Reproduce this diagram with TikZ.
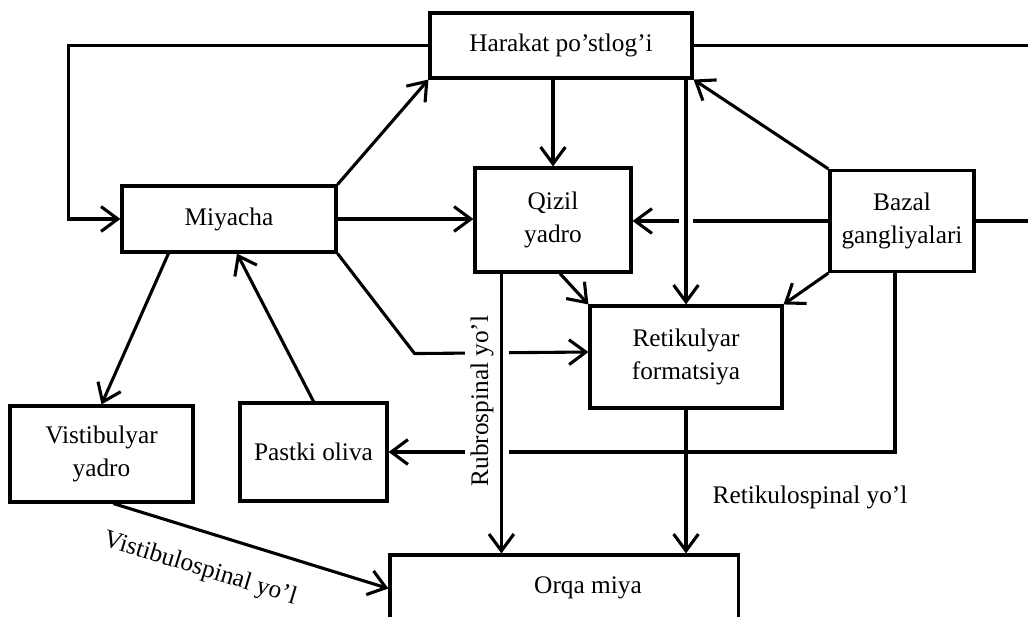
\documentclass[tikz,border=0pt]{standalone}
\usepackage{fontspec}
\setmainfont{Liberation Serif}
\usetikzlibrary{arrows.meta,calc}
\begin{document}
\begin{tikzpicture}[x=0.025cm,y=-0.025cm,
  box/.style={draw, line width=2.2pt, inner sep=0pt, align=center,
    font=\fontsize{18}{23}\selectfont},
  ln/.style={line width=2.2pt},
  arr/.style={ln, -{Straight Barb[length=0.42cm,width=0.62cm]}},
  lbl/.style={font=\fontsize{18}{21}\selectfont, inner sep=1pt},
  gap/.style={preaction={draw=white, -, line width=0.36cm,
    shorten <=4pt, shorten >=0.7cm}}]
\clip (0,0) rectangle (1028,617);

% blocks
\node[box, minimum width=6.55cm, minimum height=1.625cm] (har) at (561,45.5) {Harakat po'stlog'i};
\node[box, minimum width=5.35cm, minimum height=1.65cm] (miy) at (229,219) {Miyacha};
\node[box, minimum width=3.9cm, minimum height=2.6cm] (qiz) at (553,220) {Qizil\\yadro};
\node[box, minimum width=3.6cm, minimum height=2.525cm] (baz) at (902,221) {Bazal\\gangliyalari};
\node[box, minimum width=4.8cm, minimum height=2.55cm] (ret) at (686,357) {Retikulyar\\formatsiya};
\node[box, minimum width=4.575cm, minimum height=2.4cm] (ves) at (101.5,454) {Vistibulyar\\yadro};
\node[box, minimum width=3.675cm, minimum height=2.45cm] (pas) at (313.5,452) {Pastki oliva};
\node[box, minimum width=8.7cm, minimum height=1.675cm] (orq) at (564,588.5) {};
\node[lbl] (orqt) at (588,588) {Orqa miya};

\coordinate (rE1) at (1030,45.5);
\coordinate (rE2) at (1030,221);

% connectors without crossings
\draw[arr] (har.west) -- ++(-360,0) |- (miy.west);
\draw[ln] (har.east) -- (rE1);
\draw[ln] (baz.east) -- (rE2);
\draw[arr] (miy.north east) -- (har.south west);
\draw[arr] (miy.east) -- (miy.east -| qiz.west);
\draw[arr] ($(miy.south west)+(48,0)$) -- (ves.north);
\draw[arr] (pas.north) -- ($(miy.south)+(8,0)$);
\draw[arr] (baz.north west) -- (har.south east);
\draw[arr] (baz.south west) -- (ret.north east);
\draw[arr] ($(qiz.south)+(7,0)$) -- (ret.north west);
\draw[arr] (qiz.north |- har.south) -- (qiz.north);
\draw[arr] ($(ves.south)+(12,0)$) -- (orq.west);

% horizontal runs that are broken by vertical lines
\draw[arr] (miy.south east) -- ++(77,100) -- ($(ret.west)+(0,-5)$);
\draw[arr] ($(baz.south)+(-7,0)$) |- (pas.east);
\draw[arr] (baz.west) -- (baz.west -| qiz.east);

% path labels
\node[lbl, rotate=90, fill=white, inner sep=4pt] (rub) at (482,401) {Rubrospinal yo'l};
\node[lbl] (rsl) at (810,497) {Retikulospinal yo'l};
\node[lbl, rotate=-17] (vsl) at (200,569) {Vistibulospinal yo'l};

% vertical runs drawn over the crossings
\coordinate (rs) at ($(qiz.south west)+(28,0)$);
\draw[arr, gap] (rs) -- (rs |- orq.north);
\draw[arr, gap] (ret.north |- har.south) -- (ret.north);
\draw[arr] (ret.south) -- (ret.south |- orq.north);
\end{tikzpicture}
\end{document}
